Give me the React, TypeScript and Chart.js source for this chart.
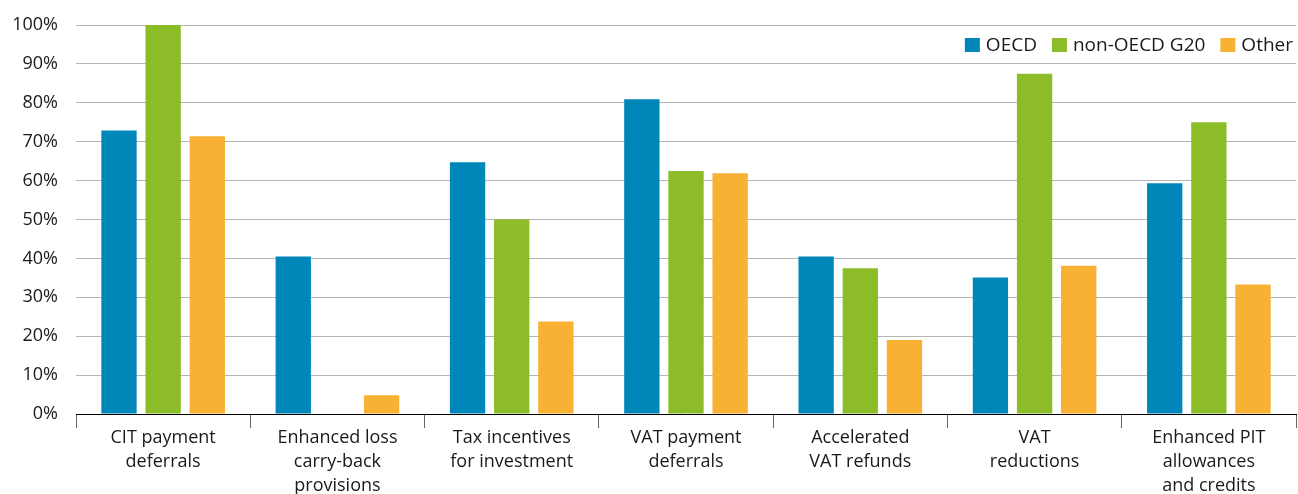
import React, { useEffect, useRef } from "react";
import { Chart, registerables } from "chart.js";

Chart.register(...registerables);

const categories: string[][] = [
  ["CIT payment", "deferrals"],
  ["Enhanced loss", "carry-back", "provisions"],
  ["Tax incentives", "for investment"],
  ["VAT payment", "deferrals"],
  ["Accelerated", "VAT refunds"],
  ["VAT", "reductions"],
  ["Enhanced PIT", "allowances", "and credits"],
];

const seriesNames = ["OECD", "non-OECD G20", "Other"];
const oecd = [72.9, 40.5, 64.7, 80.9, 40.5, 35.1, 59.3];
const nonOecdG20 = [100, 0, 50, 62.5, 37.5, 87.5, 75];
const other = [71.4, 4.8, 23.8, 61.9, 19.0, 38.1, 33.3];
const yTicks = [0, 10, 20, 30, 40, 50, 60, 70, 80, 90, 100];

const colors = ["#0086B9", "#8CBC27", "#F8B133"];
const FONT = "'Open Sans', 'Noto Sans', sans-serif";

const legendPlugin = {
  id: "insideLegend",
  afterDraw(chart: any) {
    const ctx = chart.ctx;
    const area = chart.chartArea;
    ctx.save();
    ctx.font = `19px ${FONT}`;
    ctx.textBaseline = "middle";
    const cy = area.top + 20;
    let x = area.right - 3;
    const ds = chart.data.datasets;
    for (let i = ds.length - 1; i >= 0; i--) {
      const label = ds[i].label;
      const w = ctx.measureText(label).width;
      x -= w;
      ctx.fillStyle = "#1a1a1a";
      ctx.textAlign = "left";
      ctx.fillText(label, x, cy + 1);
      x -= 6 + 15;
      ctx.fillStyle = ds[i].backgroundColor;
      ctx.fillRect(x, cy - 7, 15, 14);
      x -= 15;
    }
    ctx.restore();
  },
};

export default function App() {
  const ref = useRef<HTMLCanvasElement>(null);
  useEffect(() => {
    if (!ref.current) return;
    const data = [oecd, nonOecdG20, other];
    const chart = new Chart(ref.current, {
      type: "bar",
      data: {
        labels: categories,
        datasets: seriesNames.map((n, i) => ({
          label: n,
          data: data[i],
          backgroundColor: colors[i],
          borderWidth: 0,
          categoryPercentage: 0.76,
          barPercentage: 0.8,
        })),
      },
      options: {
        animation: false,
        responsive: true,
        maintainAspectRatio: false,
        layout: { padding: { top: 25, left: 0, right: 2, bottom: 0 } },
        plugins: {
          legend: { display: false },
          tooltip: { enabled: false },
        },
        scales: {
          x: {
            grid: {
              offset: true,
              drawOnChartArea: false,
              drawTicks: true,
              tickLength: 14,
              color: "#666",
            },
            border: { display: true, color: "#000", width: 1 },
            ticks: {
              color: "#1a1a1a",
              font: { family: FONT, size: 18, lineHeight: 24 / 18 },
              padding: -2,
              maxRotation: 0,
              autoSkip: false,
            },
          },
          y: {
            min: 0,
            max: 100,
            afterBuildTicks: (axis: any) => {
              axis.ticks = yTicks.map((v) => ({ value: v }));
            },
            afterFit: (axis: any) => {
              axis.width = 76;
              axis.paddingTop = 0;
              axis.paddingBottom = 0;
            },
            grid: { color: "#b5b5b5", drawTicks: false, lineWidth: 1 },
            border: { display: false },
            ticks: {
              color: "#1a1a1a",
              font: { family: FONT, size: 18 },
              padding: 18,
              callback: (v: any) => `${v}%`,
            },
          },
        },
      },
      plugins: [legendPlugin],
    });
    return () => chart.destroy();
  }, []);
  return (
    <div style={{ position: "absolute", left: 0, top: 0, width: 1298, height: 496 }}>
      <canvas ref={ref} />
    </div>
  );
}
